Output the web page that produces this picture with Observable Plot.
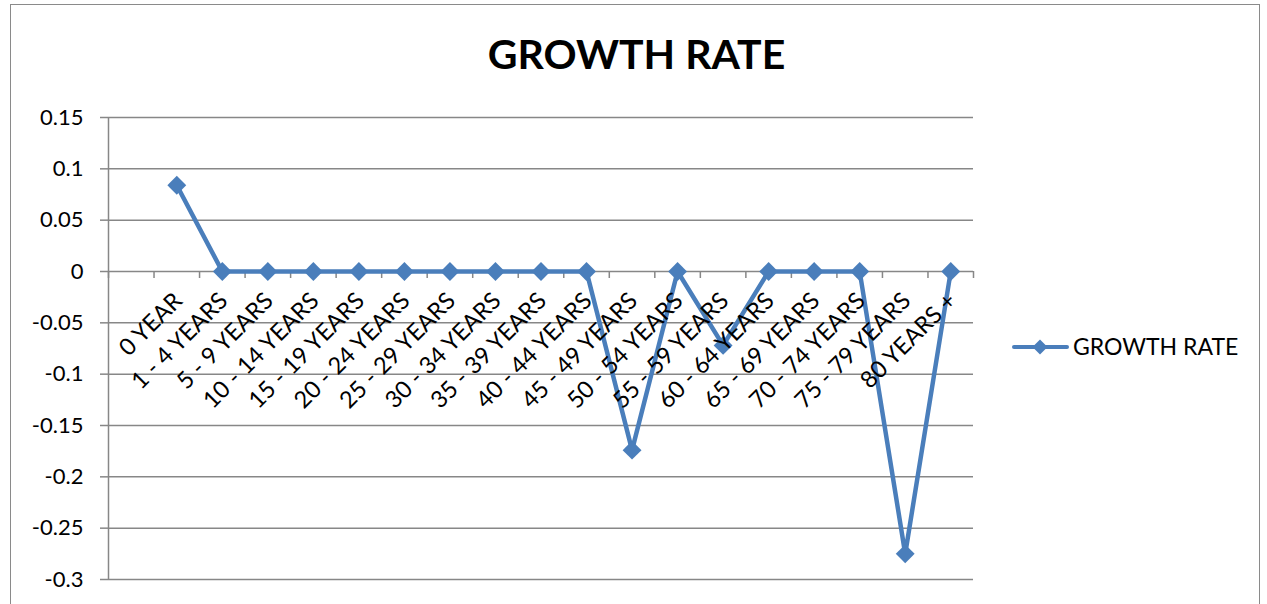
<!DOCTYPE html>
<html>
<head>
<meta charset="utf-8">
<script src="https://cdn.jsdelivr.net/npm/d3@7"></script>
<script src="https://cdn.jsdelivr.net/npm/@observablehq/plot@0.6"></script>
<style>
  body { margin: 0; background: #fff; }
  #wrap { position: relative; width: 1267px; height: 604px; overflow: hidden; font-family: Lato, "Open Sans", sans-serif; }
  #frame { position: absolute; left: 10px; top: 4px; width: 1250px; height: 660px; border: 1.5px solid #8a8a8a; box-sizing: border-box; }
  #chart { position: absolute; left: 0; top: 0; }
  #overlay { position: absolute; left: 0; top: 0; pointer-events: none; }
</style>
</head>
<body>
<div id="wrap">
  <div id="frame"></div>
  <div id="chart"></div>
  <svg id="overlay" width="1267" height="604" font-family="Lato, 'Open Sans', sans-serif">
    <text x="636.5" y="69" text-anchor="middle" font-weight="700" font-size="41" fill="#000">GROWTH RATE</text>
    <line x1="1014" x2="1067" y1="347" y2="347" stroke="#4a7ebb" stroke-width="4" stroke-linecap="round"></line>
    <path d="M1040,339.5 L1047.5,347 L1040,354.5 L1032.5,347Z" fill="#4a7ebb"></path>
    <text x="1073" y="355" font-size="23" fill="#000">GROWTH RATE</text>
  </svg>
</div>
<script>
const categories = ["0 YEAR", "1 - 4 YEARS", "5 - 9 YEARS", "10 - 14 YEARS", "15 - 19 YEARS",
  "20 - 24 YEARS", "25 - 29 YEARS", "30 - 34 YEARS", "35 - 39 YEARS", "40 - 44 YEARS",
  "45 - 49 YEARS", "50 - 54 YEARS", "55 - 59 YEARS", "60 - 64 YEARS", "65 - 69 YEARS",
  "70 - 74 YEARS", "75 - 79 YEARS", "80 YEARS +"];
const growthRate = [0.084, 0, 0, 0, 0, 0, 0, 0, 0, 0, -0.174, 0, -0.072, 0, 0, 0, -0.275, 0];
const yTicks = [0.15, 0.1, 0.05, 0, -0.05, -0.1, -0.15, -0.2, -0.25, -0.3];

// Excel layout: one empty leading category slot, then the 18 categories
const slotCount = categories.length + 1;
const data = categories.map((c, i) => ({category: c, slot: i + 1.5, value: growthRate[i]}));
const boundaries = d3.range(0, slotCount + 1);

const blue = "#4a7ebb";
const grid = "#878787";

const chart = Plot.plot({
  width: 1267,
  height: 604,
  marginLeft: 108,
  marginRight: 294,
  marginTop: 117,
  marginBottom: 25,
  style: {background: "transparent", fontFamily: "Lato, 'Open Sans', sans-serif", overflow: "visible"},
  x: {type: "linear", domain: [0, slotCount], axis: null},
  y: {domain: [-0.3, 0.15], axis: null},
  marks: [
    Plot.ruleY(yTicks, {stroke: grid, strokeWidth: 1.5}),
    Plot.ruleX([0], {y1: -0.3, y2: 0.15, stroke: grid, strokeWidth: 1.5}),
    Plot.ruleX(boundaries, {y1: 0, y2: 0, insetBottom: -7, stroke: grid, strokeWidth: 1.5}),
    Plot.axisY({ticks: yTicks, tickSize: 8, tickPadding: 17, tickFormat: d => String(d),
      fontSize: 22, stroke: grid, strokeWidth: 1.5, fill: "#000", label: null}),
    Plot.line(data, {x: "slot", y: "value", stroke: blue, strokeWidth: 4.5, strokeLinejoin: "round"}),
    Plot.dot(data, {x: "slot", y: "value", symbol: "diamond2", r: 8.5, fill: blue, stroke: "none"}),
    Plot.text(data, {x: "slot", y: () => 0, text: "category", rotate: -45, textAnchor: "end",
      lineAnchor: "top", dx: -5, dy: 19, fontSize: 23.5, fill: "#000"})
  ]
});
document.getElementById("chart").appendChild(chart);
</script>
</body>
</html>
